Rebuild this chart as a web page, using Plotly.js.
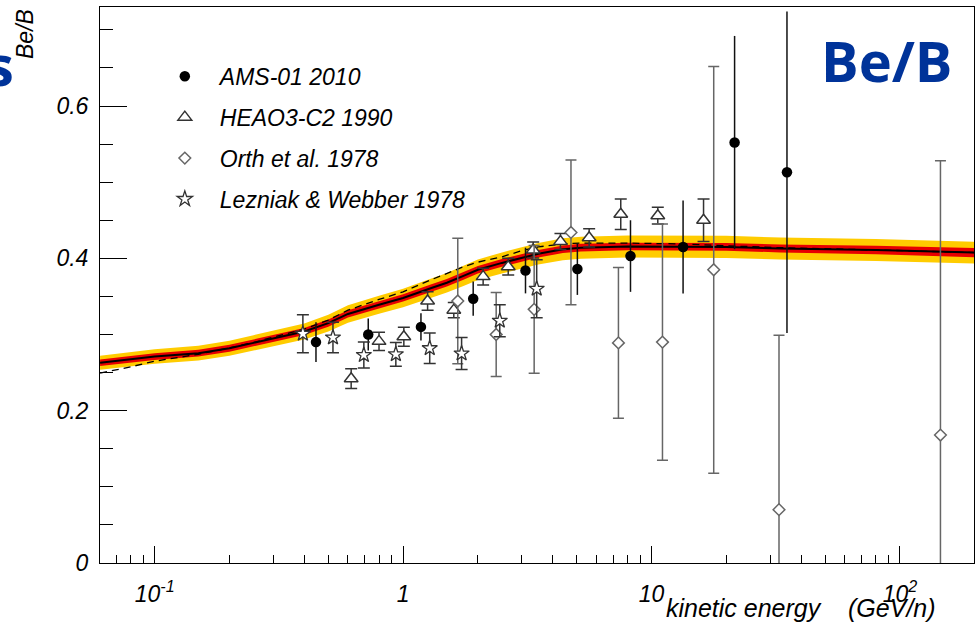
<!DOCTYPE html>
<html>
<head>
<meta charset="utf-8">
<script src="https://cdn.plot.ly/plotly-3.0.1.min.js"></script>
<style>
  html, body { margin: 0; padding: 0; background: #fff; }
  #chart { width: 979px; height: 623px; }
</style>
</head>
<body>
<div id="chart"></div>
<script>
// Be/B ratio versus kinetic energy per nucleon (GeV/n)

// AMS-01 2010
const amsEnergy = [0.446, 0.724, 1.18, 1.915, 3.11, 5.03, 8.23, 13.4, 21.6, 35.1];
const amsRatio  = [0.290, 0.300, 0.310, 0.347, 0.384, 0.386, 0.403, 0.415, 0.552, 0.513];
const amsError  = [0.026, 0.021, 0.018, 0.0225, 0.030, 0.034, 0.047, 0.061, 0.140, 0.211];

// HEAO3-C2 1990
const heaoEnergy = [0.618, 0.80, 1.007, 1.255, 1.60, 2.10, 2.65, 3.34, 4.30, 5.61, 7.52, 10.6, 16.2];
const heaoRatio  = [0.242, 0.291, 0.297, 0.344, 0.332, 0.376, 0.389, 0.411, 0.422, 0.427, 0.458, 0.456, 0.450];
const heaoError  = [0.013, 0.012, 0.0125, 0.012, 0.010, 0.011, 0.011, 0.0105, 0.0105, 0.012, 0.020, 0.011, 0.028];

// Orth et al. 1978
const orthEnergy = [1.66, 2.37, 3.37, 4.74, 7.36, 11.07, 17.8, 32.6, 145.6];
const orthRatio  = [0.344, 0.300, 0.333, 0.434, 0.289, 0.290, 0.385, 0.070, 0.168];
const orthError  = [0.0825, 0.055, 0.084, 0.095, 0.099, 0.155, 0.267, 0.229, 0.360];

// Lezniak & Webber 1978
const lwEnergy = [0.395, 0.522, 0.695, 0.935, 1.28, 1.72, 2.45, 3.45];
const lwRatio  = [0.301, 0.296, 0.273, 0.274, 0.282, 0.275, 0.318, 0.360];
const lwError  = [0.025, 0.020, 0.017, 0.0156, 0.020, 0.021, 0.021, 0.038];

// Propagation model: central curve, alternative (dashed) curve and uncertainty bands
const modelEnergy = [0.0603, 0.08, 0.1, 0.15, 0.2, 0.25, 0.3, 0.4, 0.5, 0.6, 0.8, 1.0, 1.3, 1.5, 1.75, 2.0, 2.5, 3.0, 3.5, 4.4, 5.2, 8, 13, 20, 33, 80, 200];
const modelRatio  = [0.263, 0.2675, 0.271, 0.2755, 0.282, 0.289, 0.295, 0.304, 0.315, 0.327, 0.339, 0.348, 0.361, 0.368, 0.377, 0.385, 0.394, 0.401, 0.406, 0.412, 0.414, 0.4155, 0.4157, 0.415, 0.413, 0.411, 0.4075];
const altRatio    = [0.2494, 0.2575, 0.265, 0.274, 0.2825, 0.2895, 0.2965, 0.307, 0.319, 0.332, 0.346, 0.356, 0.372, 0.380, 0.389, 0.395, 0.402, 0.410, 0.415, 0.419, 0.420, 0.420, 0.419, 0.4165, 0.414, 0.411, 0.4075];
const outerHalf   = [0.0092, 0.0094, 0.0095, 0.0096, 0.0099, 0.0101, 0.0103, 0.0106, 0.011, 0.0114, 0.0119, 0.0122, 0.0126, 0.0129, 0.0132, 0.0135, 0.0138, 0.014, 0.0142, 0.0144, 0.0145, 0.0145, 0.0145, 0.0145, 0.0145, 0.0144, 0.0143];
const innerHalf   = [0.0043, 0.0043, 0.0044, 0.0044, 0.0045, 0.0045, 0.0046, 0.0046, 0.0047, 0.0047, 0.0048, 0.0048, 0.0049, 0.0049, 0.005, 0.005, 0.005, 0.005, 0.005, 0.005, 0.005, 0.005, 0.005, 0.005, 0.0052, 0.0055, 0.006];

// Axis ticks
const xTickVals  = [0.1, 1, 10, 100];
const xTickText  = ['10<sup>-1</sup>', '1', '10', '10<sup>2</sup>'];
const xMinorVals = [0.07, 0.08, 0.09, 0.2, 0.3, 0.4, 0.5, 0.6, 0.7, 0.8, 0.9,
                    2, 3, 4, 5, 6, 7, 8, 9, 20, 30, 40, 50, 60, 70, 80, 90];

const sub = (a, b) => a.map((v, i) => v - b[i]);
const add = (a, b) => a.map((v, i) => v + b[i]);

const FONT = 'Liberation Sans, Arial, sans-serif';
const BLUE = '#003399';

function band(lo, hi, color) {
  return [
    { x: modelEnergy, y: lo, mode: 'lines', line: { width: 0, color: color },
      showlegend: false, hoverinfo: 'skip' },
    { x: modelEnergy, y: hi, mode: 'lines', line: { width: 0, color: color },
      fill: 'tonexty', fillcolor: color, showlegend: false, hoverinfo: 'skip' }
  ];
}

const traces = [
  ...band(sub(modelRatio, outerHalf), add(modelRatio, outerHalf), '#ffcc00'),
  ...band(sub(modelRatio, innerHalf), add(modelRatio, innerHalf), '#e80000'),
  { x: modelEnergy, y: modelRatio, mode: 'lines', line: { color: '#000', width: 2 },
    showlegend: false, hoverinfo: 'skip' },
  { x: modelEnergy, y: altRatio, mode: 'lines', line: { color: '#000', width: 1.3, dash: '7px,5px' },
    showlegend: false, hoverinfo: 'skip' },
  { name: 'AMS-01 2010', legendgroup: 'a', x: amsEnergy, y: amsRatio, mode: 'markers',
    marker: { symbol: 'circle', size: 10.5, color: '#000' },
    error_y: { type: 'data', array: amsError, color: '#111', thickness: 1.5, width: 0 } },
  { name: 'HEAO3-C2 1990', legendgroup: 'b', x: heaoEnergy, y: heaoRatio, mode: 'markers',
    marker: { symbol: 'triangle-up', size: 12, color: '#fff', line: { color: '#333', width: 1.5 } },
    error_y: { type: 'data', array: heaoError, color: '#333', thickness: 1.5, width: 6 } },
  { name: 'Orth et al. 1978', legendgroup: 'c', x: orthEnergy, y: orthRatio, mode: 'markers',
    marker: { symbol: 'diamond', size: 9, color: '#fff', line: { color: '#666', width: 1.5 } },
    error_y: { type: 'data', array: orthError, color: '#666', thickness: 1.5, width: 5.5 } },
  { name: 'Lezniak &amp; Webber 1978', legendgroup: 'd', x: lwEnergy, y: lwRatio, mode: 'markers',
    marker: { symbol: 'star', size: 11.5, color: '#fff', line: { color: '#333', width: 1.3 } },
    error_y: { type: 'data', array: lwError, color: '#333', thickness: 1.5, width: 6 } }
];

const layout = {
  width: 979, height: 623,
  margin: { l: 100, r: 5, t: 7, b: 60 },
  paper_bgcolor: '#fff', plot_bgcolor: '#fff',
  font: { family: FONT, color: '#000' },
  showlegend: true,
  legend: {
    x: 0.057, y: 0.914, xanchor: 'left', yanchor: 'top',
    bgcolor: 'rgba(0,0,0,0)', borderwidth: 0,
    itemwidth: 60, tracegroupgap: 8,
    font: { family: FONT, size: 23, style: 'italic', color: '#000' }
  },
  xaxis: {
    type: 'log', range: [-1.2201, 2.2982],
    showline: true, linecolor: '#000', linewidth: 1, mirror: true,
    showgrid: false, zeroline: false,
    ticks: 'inside', ticklen: 17, tickcolor: '#000', tickwidth: 1,
    tickmode: 'array', tickvals: xTickVals, ticktext: xTickText,
    ticklabelstandoff: 10,
    tickfont: { family: FONT, size: 23, style: 'italic', color: '#000' },
    minor: { tickmode: 'array', tickvals: xMinorVals, ticks: 'inside', ticklen: 8.5,
             tickcolor: '#000', tickwidth: 1, showgrid: false }
  },
  yaxis: {
    range: [0, 0.73],
    showline: true, linecolor: '#000', linewidth: 1, mirror: true,
    showgrid: false, zeroline: false,
    ticks: 'inside', ticklen: 27, tickcolor: '#000', tickwidth: 1,
    tick0: 0, dtick: 0.2,
    ticklabelstandoff: 6,
    tickfont: { family: FONT, size: 23, style: 'italic', color: '#000' },
    minor: { dtick: 0.05, ticks: 'inside', ticklen: 13, tickcolor: '#000', tickwidth: 1, showgrid: false }
  },
  annotations: [
    { text: 'Be/B', xref: 'paper', yref: 'paper', x: 0.9, y: 0.905,
      xanchor: 'center', yanchor: 'middle', showarrow: false,
      font: { family: 'Open Sans, sans-serif', size: 56, weight: 700, color: BLUE } },
    { text: 's', xref: 'paper', yref: 'paper', x: 0, y: 0.897, xshift: -84,
      xanchor: 'right', yanchor: 'middle', showarrow: false,
      font: { family: 'Open Sans, sans-serif', size: 56, weight: 700, color: BLUE } },
    { text: 'Be/B', xref: 'paper', yref: 'paper', x: 0, y: 1, xshift: -75, yshift: -27,
      xanchor: 'center', yanchor: 'middle', textangle: -90, showarrow: false,
      font: { family: FONT, size: 23, style: 'italic', color: '#000' } },
    { text: 'kinetic energy\u00a0\u00a0\u00a0\u00a0(GeV/n)', xref: 'paper', yref: 'paper',
      x: 0.9588, y: 0, yshift: -45, xanchor: 'right', yanchor: 'middle', showarrow: false,
      font: { family: FONT, size: 25, style: 'italic', color: '#000' } }
  ]
};

Plotly.newPlot('chart', traces, layout, { displayModeBar: false, staticPlot: true });
</script>
</body>
</html>
